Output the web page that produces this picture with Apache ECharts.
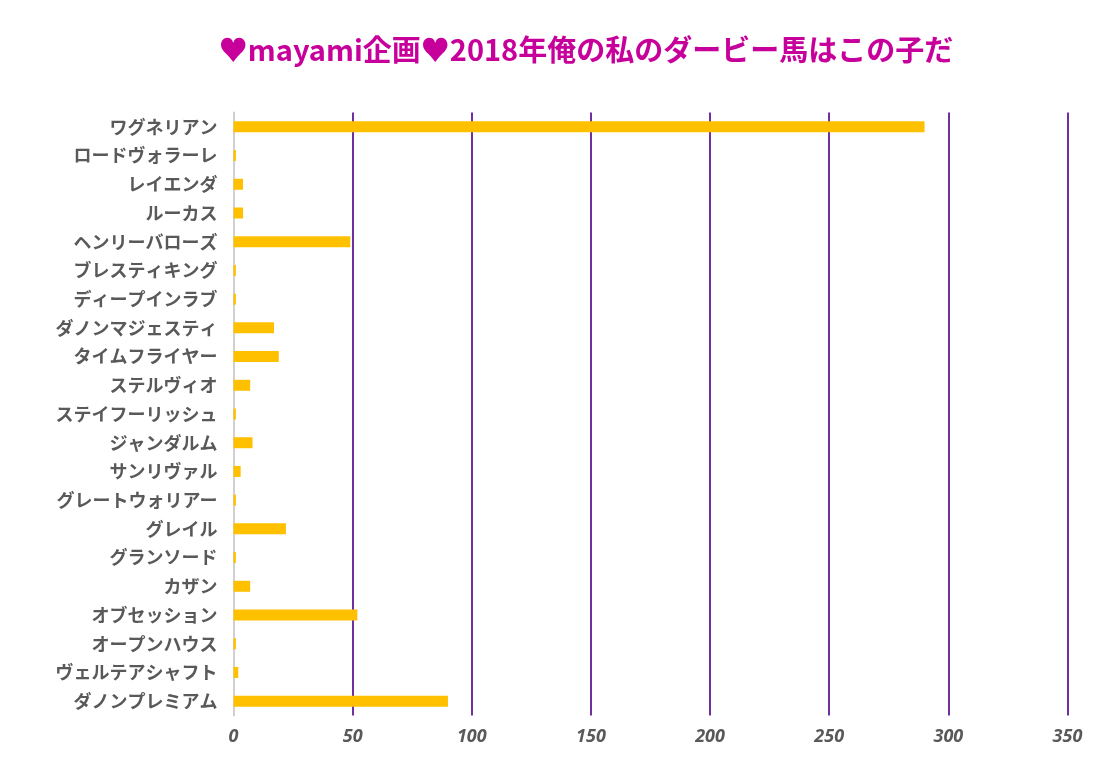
<!DOCTYPE html>
<html>
<head>
<meta charset="utf-8">
<script src="https://cdn.jsdelivr.net/npm/echarts@6/dist/echarts.min.js"></script>
<style>html,body{margin:0;padding:0;background:#fff}#c{width:1104px;height:771px}</style>
</head>
<body>
<div id="c"></div>
<script>
var titleText = '♥mayami企画♥2018年俺の私のダービー馬はこの子だ';
var categories = ['ワグネリアン','ロードヴォラーレ','レイエンダ','ルーカス','ヘンリーバローズ','ブレスティキング','ディープインラブ','ダノンマジェスティ','タイムフライヤー','ステルヴィオ','ステイフーリッシュ','ジャンダルム','サンリヴァル','グレートウォリアー','グレイル','グランソード','カザン','オブセッション','オープンハウス','ヴェルテアシャフト','ダノンプレミアム'];
var votes = [290,1,4,4,49,1,1,17,19,7,1,8,3,1,22,1,7,52,1,2,90];
var xTicks = [0,50,100,150,200,250,300,350];

var chart = echarts.init(document.getElementById('c'));
chart.setOption({
  backgroundColor: '#ffffff',
  animation: false,
  title: {
    text: titleText,
    left: 581,
    textAlign: 'center',
    top: 30,
    textStyle: {color: '#C8009B', fontSize: 29, fontWeight: 'bold', fontFamily: 'Noto Sans CJK JP'}
  },
  grid: {left: 233.5, right: 36.5, top: 112.5, bottom: 55.5, containLabel: false},
  xAxis: {
    type: 'value',
    min: xTicks[0],
    max: xTicks[xTicks.length - 1],
    interval: 50,
    axisLine: {show: false},
    axisTick: {show: false},
    splitLine: {show: true, lineStyle: {color: '#7030A0', width: 2}},
    axisLabel: {
      color: '#595959', fontSize: 18, fontWeight: 'bold', fontStyle: 'italic',
      fontFamily: 'Noto Sans', margin: 12
    }
  },
  yAxis: {
    type: 'category',
    data: categories,
    inverse: true,
    axisLine: {show: true, lineStyle: {color: '#D0D0D0', width: 2}},
    axisTick: {show: false},
    splitLine: {show: false},
    axisLabel: {
      color: '#595959', fontSize: 18, fontWeight: 'bold',
      fontFamily: 'Noto Sans CJK JP', margin: 16
    }
  },
  series: [{
    type: 'bar',
    data: votes,
    barWidth: 11,
    itemStyle: {color: '#FFC000'}
  }]
});
</script>
</body>
</html>
